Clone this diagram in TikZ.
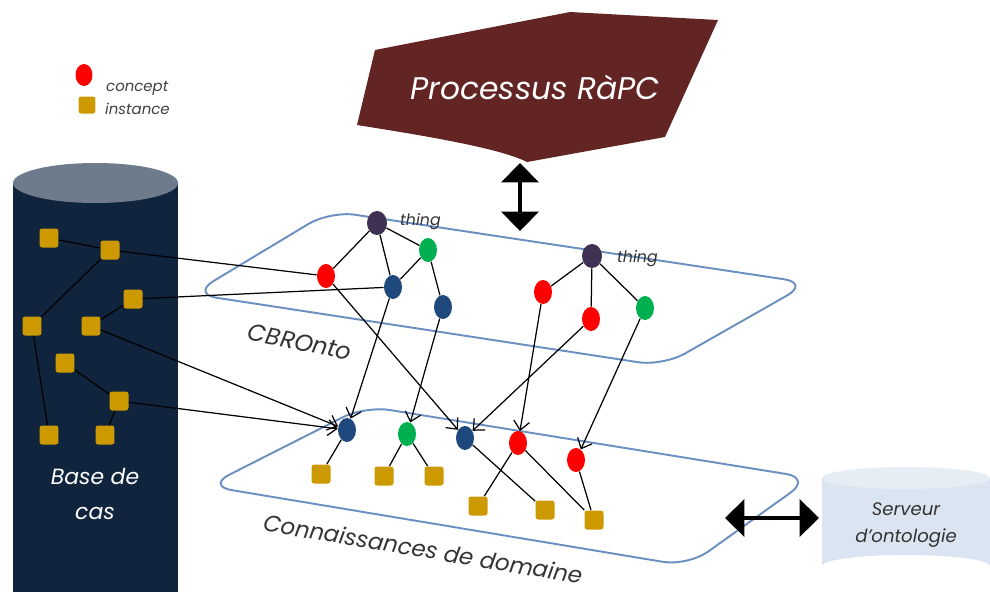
\documentclass[tikz,border=0pt]{standalone}
\usepackage{fontspec}
\setmainfont{Poppins}
\usetikzlibrary{arrows.meta,shapes.geometric}

\definecolor{casnavy}{HTML}{10243E}
\definecolor{castop}{HTML}{6E7B8C}
\definecolor{instgold}{HTML}{CC9900}
\definecolor{cblue}{HTML}{1F497D}
\definecolor{cgreen}{HTML}{00B050}
\definecolor{cred}{HTML}{FF0000}
\definecolor{cthing}{HTML}{3F3151}
\definecolor{planeblue}{HTML}{6A8FC0}
\definecolor{rapc}{HTML}{632523}
\definecolor{serveur}{HTML}{DBE5F1}

\tikzset{
  concept/.style={ellipse,inner sep=0pt,minimum width=0.36cm,minimum height=0.48cm,fill=#1},
  inst/.style={rectangle,rounded corners=1.5pt,inner sep=0pt,minimum size=0.38cm,fill=instgold},
  plane/.style={draw=planeblue,line width=1.1pt,rounded corners=0.5cm},
  link/.style={draw,line width=0.7pt},
  map/.style={draw,line width=0.7pt,-{Straight Barb[length=5pt,width=9pt]}},
  bigarrow/.style={line width=2.3pt,{Triangle[length=11pt,width=21pt]}-{Triangle[length=11pt,width=21pt]}},
  txt/.style={font=\itshape\fontsize{#1}{#1}\selectfont}
}

\begin{document}
\begin{tikzpicture}[x=0.02cm,y=-0.02cm]
\useasboundingbox (0,0) rectangle (990,592);

% base de cas
\fill[casnavy] (13,183) rectangle (178,592);
\fill[castop] (95.5,183) ellipse [x radius=82.5,y radius=20];
\node[txt=12.5,white,align=center] (bdc) at (95,494) {Base de\\[7pt]cas};

% legende
\node[concept=cred,minimum width=0.34cm,minimum height=0.44cm] (legc) at (84,75) {};
\node[inst,minimum size=0.34cm] (legi) at (87,105) {};
\node[txt=8.5,anchor=west,text=black!75] at (100,88) {concept};
\node[txt=8.5,anchor=west,text=black!75] at (99,109) {instance};

% processus
\fill[rapc] (375,50) -- (570,12) -- (718,20) -- (665,137) -- (527,162)
  .. controls (500,148) and (420,135) .. (357,125) -- cycle;
\node[txt=17.8,white] (proc) at (535,87) {Processus RàPC};

% serveur
\fill[serveur] (822,478) -- (822,566) arc[start angle=180,end angle=360,x radius=84,y radius=11]
  -- (990,478) -- cycle;
\fill[serveur!70!white] (906,478) ellipse [x radius=84,y radius=11];
\node[txt=10.3,align=center,text=black!80] (srv) at (906,525) {Serveur\\[5pt]d'ontologie};

% plans
\draw[plane] (192,294) -- (330,211) -- (809,283) -- (663,366) -- cycle;
\draw[plane] (207,486) -- (365,406) -- (811,478) -- (688,566) -- cycle;
\node[txt=13.5,rotate=-11.5,text=black!80] (cbr) at (300,342) {CBROnto};
\node[txt=13,rotate=-9.5,text=black!80] (cdd) at (423,549) {Connaissances de domaine};

\draw[bigarrow] (520,163) -- (520,231);
\draw[bigarrow] (725,518) -- (819,518);

% instances du cas
\node[inst] (s1) at (49,238) {};
\node[inst] (s2) at (110,250) {};
\node[inst] (s3) at (133,299) {};
\node[inst] (s4) at (32,326) {};
\node[inst] (s5) at (91,326) {};
\node[inst] (s6) at (65,363) {};
\node[inst] (s7) at (119,401) {};
\node[inst] (s8) at (49,435) {};
\node[inst] (s9) at (105,435) {};

% CBROnto
\node[concept=cthing,minimum width=0.4cm] (t1) at (377,223) {};
\node[concept=cgreen] (g1) at (428,250) {};
\node[concept=cred] (r1) at (326,276) {};
\node[concept=cblue] (b1) at (393,287) {};
\node[concept=cblue] (b2) at (443,307) {};
\node[txt=9,anchor=west,text=black!80] at (394,222) {thing};

\node[concept=cthing,minimum width=0.4cm] (t2) at (592,256) {};
\node[concept=cred] (r2) at (543,292) {};
\node[concept=cred] (r3) at (591,319) {};
\node[concept=cgreen] (g2) at (645,308) {};
\node[txt=9,anchor=west,text=black!80] at (611,259) {thing};

% domaine
\node[concept=cblue] (d1) at (347,430) {};
\node[concept=cgreen] (d2) at (407,434) {};
\node[concept=cblue] (d3) at (465,438) {};
\node[concept=cred] (d4) at (518,443) {};
\node[concept=cred] (d5) at (576,460) {};
\node[inst] (q1) at (321,474) {};
\node[inst] (q2) at (384,476) {};
\node[inst] (q3) at (434,476) {};
\node[inst] (q4) at (478,506) {};
\node[inst] (q5) at (545,510) {};
\node[inst] (q6) at (594,520) {};

% liens
\foreach \a/\b in {s1/s2,s2/s4,s3/s5,s4/s8,s6/s7,s7/s9,s2/r1,s3/b1,
  t1/r1,t1/b1,t1/g1,g1/b1,g1/b2,t2/r2,t2/r3,t2/g2,
  d1/q1,d2/q2,d2/q3,d4/q4,d3/q5,d4/q6,d5/q6}
  \draw[link] (\a) -- (\b);
\foreach \a/\b in {s5/d1,s7/d1,b1/d1,b2/d2,r1/d3,r3/d3,r2/d4,g2/d5}
  \draw[map] (\a) -- (\b);
\end{tikzpicture}
\end{document}
